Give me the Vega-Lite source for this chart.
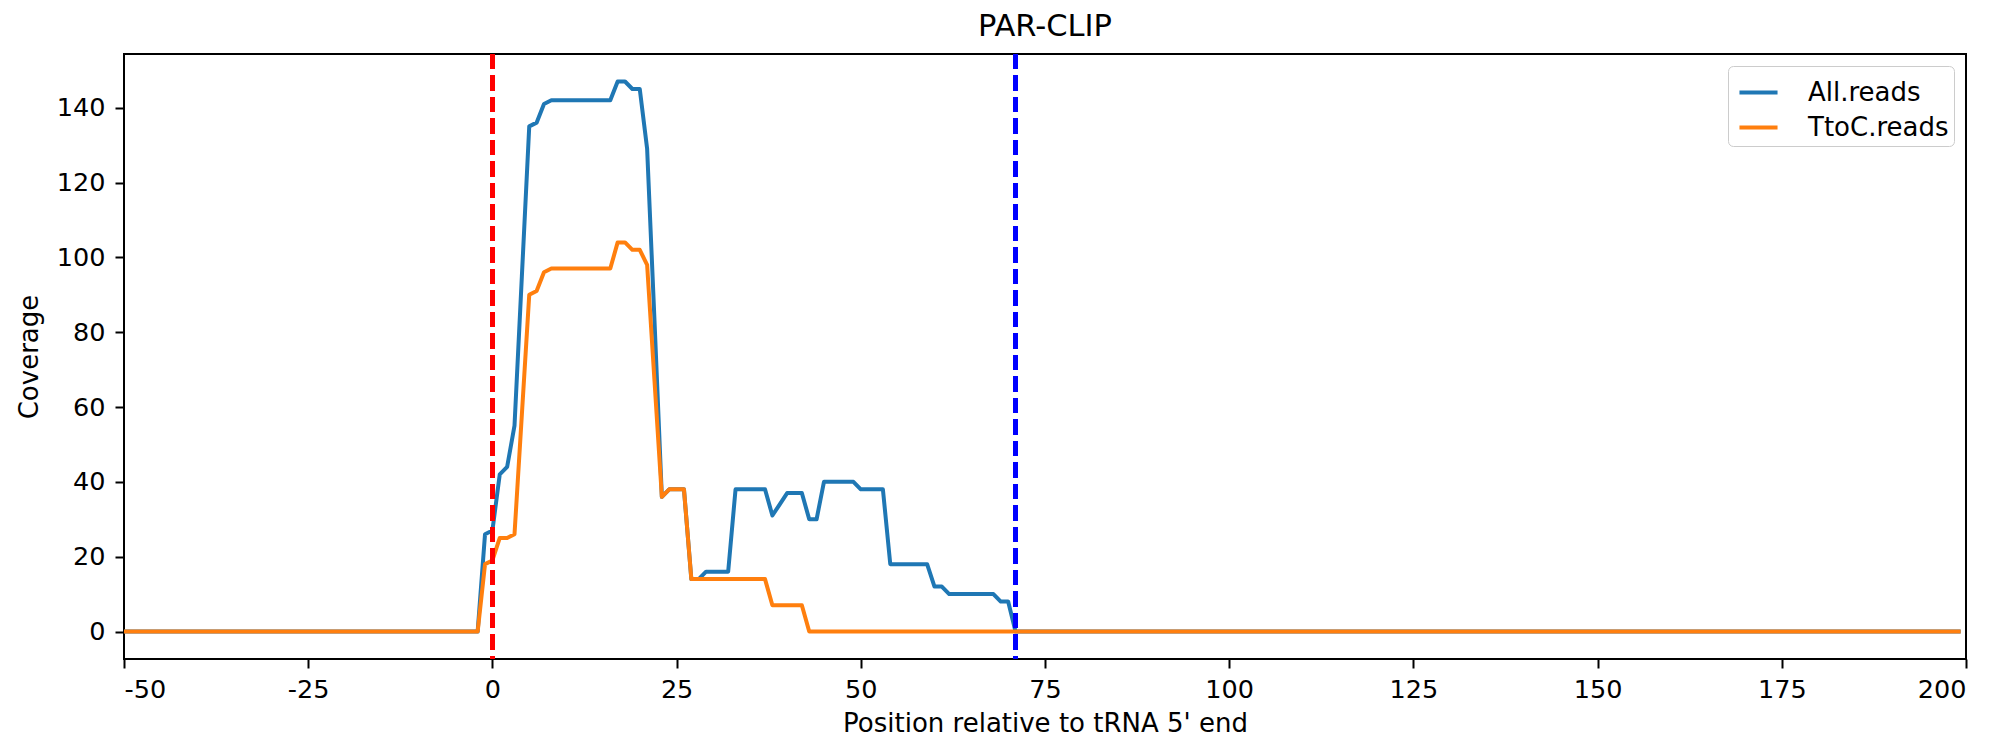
{
  "$schema": "https://vega.github.io/schema/vega-lite/v6.json",
  "width": 1842,
  "height": 605,
  "autosize": {"type": "none"},
  "padding": {"left": 124, "top": 54, "right": 32, "bottom": 82},
  "background": "white",
  "title": {"text": "PAR-CLIP", "font": "DejaVu Sans", "fontSize": 30.5, "fontWeight": "normal", "color": "black", "offset": 10},
  "config": {
    "view": {"stroke": "black", "strokeWidth": 2},
    "axis": {
      "domain": false, "grid": false,
      "tickColor": "black", "tickWidth": 2, "tickSize": 9,
      "labelFont": "DejaVu Sans", "labelFontSize": 25.5, "labelColor": "black", "labelPadding": 9,
      "titleFont": "DejaVu Sans", "titleFontSize": 26, "titleFontWeight": "normal", "titleColor": "black"
    },
    "legend": {
      "orient": "top-right", "offset": 12, "labelFont": "DejaVu Sans", "labelFontSize": 26, "labelColor": "black",
      "symbolType": "stroke", "symbolStrokeWidth": 4, "symbolSize": 1450, "symbolOffset": 4, "labelOffset": 28,
      "strokeColor": "#cccccc", "fillColor": "white", "padding": 5, "cornerRadius": 5, "rowPadding": 0
    }
  },
  "data": {"values": [
    {"pos":-50,"All":0,"TtoC":0},{"pos":-49,"All":0,"TtoC":0},{"pos":-48,"All":0,"TtoC":0},{"pos":-47,"All":0,"TtoC":0},{"pos":-46,"All":0,"TtoC":0},
    {"pos":-45,"All":0,"TtoC":0},{"pos":-44,"All":0,"TtoC":0},{"pos":-43,"All":0,"TtoC":0},{"pos":-42,"All":0,"TtoC":0},{"pos":-41,"All":0,"TtoC":0},
    {"pos":-40,"All":0,"TtoC":0},{"pos":-39,"All":0,"TtoC":0},{"pos":-38,"All":0,"TtoC":0},{"pos":-37,"All":0,"TtoC":0},{"pos":-36,"All":0,"TtoC":0},
    {"pos":-35,"All":0,"TtoC":0},{"pos":-34,"All":0,"TtoC":0},{"pos":-33,"All":0,"TtoC":0},{"pos":-32,"All":0,"TtoC":0},{"pos":-31,"All":0,"TtoC":0},
    {"pos":-30,"All":0,"TtoC":0},{"pos":-29,"All":0,"TtoC":0},{"pos":-28,"All":0,"TtoC":0},{"pos":-27,"All":0,"TtoC":0},{"pos":-26,"All":0,"TtoC":0},
    {"pos":-25,"All":0,"TtoC":0},{"pos":-24,"All":0,"TtoC":0},{"pos":-23,"All":0,"TtoC":0},{"pos":-22,"All":0,"TtoC":0},{"pos":-21,"All":0,"TtoC":0},
    {"pos":-20,"All":0,"TtoC":0},{"pos":-19,"All":0,"TtoC":0},{"pos":-18,"All":0,"TtoC":0},{"pos":-17,"All":0,"TtoC":0},{"pos":-16,"All":0,"TtoC":0},
    {"pos":-15,"All":0,"TtoC":0},{"pos":-14,"All":0,"TtoC":0},{"pos":-13,"All":0,"TtoC":0},{"pos":-12,"All":0,"TtoC":0},{"pos":-11,"All":0,"TtoC":0},
    {"pos":-10,"All":0,"TtoC":0},{"pos":-9,"All":0,"TtoC":0},{"pos":-8,"All":0,"TtoC":0},{"pos":-7,"All":0,"TtoC":0},{"pos":-6,"All":0,"TtoC":0},
    {"pos":-5,"All":0,"TtoC":0},{"pos":-4,"All":0,"TtoC":0},{"pos":-3,"All":0,"TtoC":0},{"pos":-2,"All":0,"TtoC":0},{"pos":-1,"All":26,"TtoC":18},
    {"pos":0,"All":27,"TtoC":19},{"pos":1,"All":42,"TtoC":25},{"pos":2,"All":44,"TtoC":25},{"pos":3,"All":55,"TtoC":26},{"pos":4,"All":95,"TtoC":58},
    {"pos":5,"All":135,"TtoC":90},{"pos":6,"All":136,"TtoC":91},{"pos":7,"All":141,"TtoC":96},{"pos":8,"All":142,"TtoC":97},{"pos":9,"All":142,"TtoC":97},
    {"pos":10,"All":142,"TtoC":97},{"pos":11,"All":142,"TtoC":97},{"pos":12,"All":142,"TtoC":97},{"pos":13,"All":142,"TtoC":97},{"pos":14,"All":142,"TtoC":97},
    {"pos":15,"All":142,"TtoC":97},{"pos":16,"All":142,"TtoC":97},{"pos":17,"All":147,"TtoC":104},{"pos":18,"All":147,"TtoC":104},{"pos":19,"All":145,"TtoC":102},
    {"pos":20,"All":145,"TtoC":102},{"pos":21,"All":129,"TtoC":98},{"pos":22,"All":83,"TtoC":67},{"pos":23,"All":36,"TtoC":36},{"pos":24,"All":38,"TtoC":38},
    {"pos":25,"All":38,"TtoC":38},{"pos":26,"All":38,"TtoC":38},{"pos":27,"All":14,"TtoC":14},{"pos":28,"All":14,"TtoC":14},{"pos":29,"All":16,"TtoC":14},
    {"pos":30,"All":16,"TtoC":14},{"pos":31,"All":16,"TtoC":14},{"pos":32,"All":16,"TtoC":14},{"pos":33,"All":38,"TtoC":14},{"pos":34,"All":38,"TtoC":14},
    {"pos":35,"All":38,"TtoC":14},{"pos":36,"All":38,"TtoC":14},{"pos":37,"All":38,"TtoC":14},{"pos":38,"All":31,"TtoC":7},{"pos":39,"All":34,"TtoC":7},
    {"pos":40,"All":37,"TtoC":7},{"pos":41,"All":37,"TtoC":7},{"pos":42,"All":37,"TtoC":7},{"pos":43,"All":30,"TtoC":0},{"pos":44,"All":30,"TtoC":0},
    {"pos":45,"All":40,"TtoC":0},{"pos":46,"All":40,"TtoC":0},{"pos":47,"All":40,"TtoC":0},{"pos":48,"All":40,"TtoC":0},{"pos":49,"All":40,"TtoC":0},
    {"pos":50,"All":38,"TtoC":0},{"pos":51,"All":38,"TtoC":0},{"pos":52,"All":38,"TtoC":0},{"pos":53,"All":38,"TtoC":0},{"pos":54,"All":18,"TtoC":0},
    {"pos":55,"All":18,"TtoC":0},{"pos":56,"All":18,"TtoC":0},{"pos":57,"All":18,"TtoC":0},{"pos":58,"All":18,"TtoC":0},{"pos":59,"All":18,"TtoC":0},
    {"pos":60,"All":12,"TtoC":0},{"pos":61,"All":12,"TtoC":0},{"pos":62,"All":10,"TtoC":0},{"pos":63,"All":10,"TtoC":0},{"pos":64,"All":10,"TtoC":0},
    {"pos":65,"All":10,"TtoC":0},{"pos":66,"All":10,"TtoC":0},{"pos":67,"All":10,"TtoC":0},{"pos":68,"All":10,"TtoC":0},{"pos":69,"All":8,"TtoC":0},
    {"pos":70,"All":8,"TtoC":0},{"pos":71,"All":0,"TtoC":0},{"pos":72,"All":0,"TtoC":0},{"pos":73,"All":0,"TtoC":0},{"pos":74,"All":0,"TtoC":0},
    {"pos":75,"All":0,"TtoC":0},{"pos":76,"All":0,"TtoC":0},{"pos":77,"All":0,"TtoC":0},{"pos":78,"All":0,"TtoC":0},{"pos":79,"All":0,"TtoC":0},
    {"pos":80,"All":0,"TtoC":0},{"pos":81,"All":0,"TtoC":0},{"pos":82,"All":0,"TtoC":0},{"pos":83,"All":0,"TtoC":0},{"pos":84,"All":0,"TtoC":0},
    {"pos":85,"All":0,"TtoC":0},{"pos":86,"All":0,"TtoC":0},{"pos":87,"All":0,"TtoC":0},{"pos":88,"All":0,"TtoC":0},{"pos":89,"All":0,"TtoC":0},
    {"pos":90,"All":0,"TtoC":0},{"pos":91,"All":0,"TtoC":0},{"pos":92,"All":0,"TtoC":0},{"pos":93,"All":0,"TtoC":0},{"pos":94,"All":0,"TtoC":0},
    {"pos":95,"All":0,"TtoC":0},{"pos":96,"All":0,"TtoC":0},{"pos":97,"All":0,"TtoC":0},{"pos":98,"All":0,"TtoC":0},{"pos":99,"All":0,"TtoC":0},
    {"pos":100,"All":0,"TtoC":0},{"pos":101,"All":0,"TtoC":0},{"pos":102,"All":0,"TtoC":0},{"pos":103,"All":0,"TtoC":0},{"pos":104,"All":0,"TtoC":0},
    {"pos":105,"All":0,"TtoC":0},{"pos":106,"All":0,"TtoC":0},{"pos":107,"All":0,"TtoC":0},{"pos":108,"All":0,"TtoC":0},{"pos":109,"All":0,"TtoC":0},
    {"pos":110,"All":0,"TtoC":0},{"pos":111,"All":0,"TtoC":0},{"pos":112,"All":0,"TtoC":0},{"pos":113,"All":0,"TtoC":0},{"pos":114,"All":0,"TtoC":0},
    {"pos":115,"All":0,"TtoC":0},{"pos":116,"All":0,"TtoC":0},{"pos":117,"All":0,"TtoC":0},{"pos":118,"All":0,"TtoC":0},{"pos":119,"All":0,"TtoC":0},
    {"pos":120,"All":0,"TtoC":0},{"pos":121,"All":0,"TtoC":0},{"pos":122,"All":0,"TtoC":0},{"pos":123,"All":0,"TtoC":0},{"pos":124,"All":0,"TtoC":0},
    {"pos":125,"All":0,"TtoC":0},{"pos":126,"All":0,"TtoC":0},{"pos":127,"All":0,"TtoC":0},{"pos":128,"All":0,"TtoC":0},{"pos":129,"All":0,"TtoC":0},
    {"pos":130,"All":0,"TtoC":0},{"pos":131,"All":0,"TtoC":0},{"pos":132,"All":0,"TtoC":0},{"pos":133,"All":0,"TtoC":0},{"pos":134,"All":0,"TtoC":0},
    {"pos":135,"All":0,"TtoC":0},{"pos":136,"All":0,"TtoC":0},{"pos":137,"All":0,"TtoC":0},{"pos":138,"All":0,"TtoC":0},{"pos":139,"All":0,"TtoC":0},
    {"pos":140,"All":0,"TtoC":0},{"pos":141,"All":0,"TtoC":0},{"pos":142,"All":0,"TtoC":0},{"pos":143,"All":0,"TtoC":0},{"pos":144,"All":0,"TtoC":0},
    {"pos":145,"All":0,"TtoC":0},{"pos":146,"All":0,"TtoC":0},{"pos":147,"All":0,"TtoC":0},{"pos":148,"All":0,"TtoC":0},{"pos":149,"All":0,"TtoC":0},
    {"pos":150,"All":0,"TtoC":0},{"pos":151,"All":0,"TtoC":0},{"pos":152,"All":0,"TtoC":0},{"pos":153,"All":0,"TtoC":0},{"pos":154,"All":0,"TtoC":0},
    {"pos":155,"All":0,"TtoC":0},{"pos":156,"All":0,"TtoC":0},{"pos":157,"All":0,"TtoC":0},{"pos":158,"All":0,"TtoC":0},{"pos":159,"All":0,"TtoC":0},
    {"pos":160,"All":0,"TtoC":0},{"pos":161,"All":0,"TtoC":0},{"pos":162,"All":0,"TtoC":0},{"pos":163,"All":0,"TtoC":0},{"pos":164,"All":0,"TtoC":0},
    {"pos":165,"All":0,"TtoC":0},{"pos":166,"All":0,"TtoC":0},{"pos":167,"All":0,"TtoC":0},{"pos":168,"All":0,"TtoC":0},{"pos":169,"All":0,"TtoC":0},
    {"pos":170,"All":0,"TtoC":0},{"pos":171,"All":0,"TtoC":0},{"pos":172,"All":0,"TtoC":0},{"pos":173,"All":0,"TtoC":0},{"pos":174,"All":0,"TtoC":0},
    {"pos":175,"All":0,"TtoC":0},{"pos":176,"All":0,"TtoC":0},{"pos":177,"All":0,"TtoC":0},{"pos":178,"All":0,"TtoC":0},{"pos":179,"All":0,"TtoC":0},
    {"pos":180,"All":0,"TtoC":0},{"pos":181,"All":0,"TtoC":0},{"pos":182,"All":0,"TtoC":0},{"pos":183,"All":0,"TtoC":0},{"pos":184,"All":0,"TtoC":0},
    {"pos":185,"All":0,"TtoC":0},{"pos":186,"All":0,"TtoC":0},{"pos":187,"All":0,"TtoC":0},{"pos":188,"All":0,"TtoC":0},{"pos":189,"All":0,"TtoC":0},
    {"pos":190,"All":0,"TtoC":0},{"pos":191,"All":0,"TtoC":0},{"pos":192,"All":0,"TtoC":0},{"pos":193,"All":0,"TtoC":0},{"pos":194,"All":0,"TtoC":0},
    {"pos":195,"All":0,"TtoC":0},{"pos":196,"All":0,"TtoC":0},{"pos":197,"All":0,"TtoC":0},{"pos":198,"All":0,"TtoC":0},{"pos":199,"All":0,"TtoC":0}
  ]},
  "layer": [
    {
      "transform": [{"fold": ["All", "TtoC"], "as": ["series", "cov"]}],
      "mark": {"type": "line", "strokeWidth": 4, "strokeJoin": "round", "strokeCap": "square", "clip": true},
      "encoding": {
        "x": {"field": "pos", "type": "quantitative",
              "scale": {"domain": [-50, 200], "nice": false, "zero": false},
              "axis": {"values": [-50, -25, 0, 25, 50, 75, 100, 125, 150, 175, 200], "labelExpr": "'' + datum.value", "title": "Position relative to tRNA 5' end", "titlePadding": 8}},
        "y": {"field": "cov", "type": "quantitative",
              "scale": {"domain": [-7.35, 154.35], "nice": false, "zero": false},
              "axis": {"values": [0, 20, 40, 60, 80, 100, 120, 140], "title": "Coverage", "titlePadding": 14, "labelPadding": 10}},
        "color": {"field": "series", "type": "nominal",
                  "scale": {"domain": ["All", "TtoC"], "range": ["#1f77b4", "#ff7f0e"]},
                  "legend": {"title": null, "labelExpr": "datum.label == 'All' ? 'All.reads' : 'TtoC.reads'"}}
      }
    },
    {
      "mark": {"type": "rule", "color": "red", "strokeWidth": 4, "strokeDash": [15, 6.5]},
      "encoding": {"x": {"datum": 0}}
    },
    {
      "mark": {"type": "rule", "color": "blue", "strokeWidth": 4, "strokeDash": [15, 6.5]},
      "encoding": {"x": {"datum": 71}}
    }
  ]
}
